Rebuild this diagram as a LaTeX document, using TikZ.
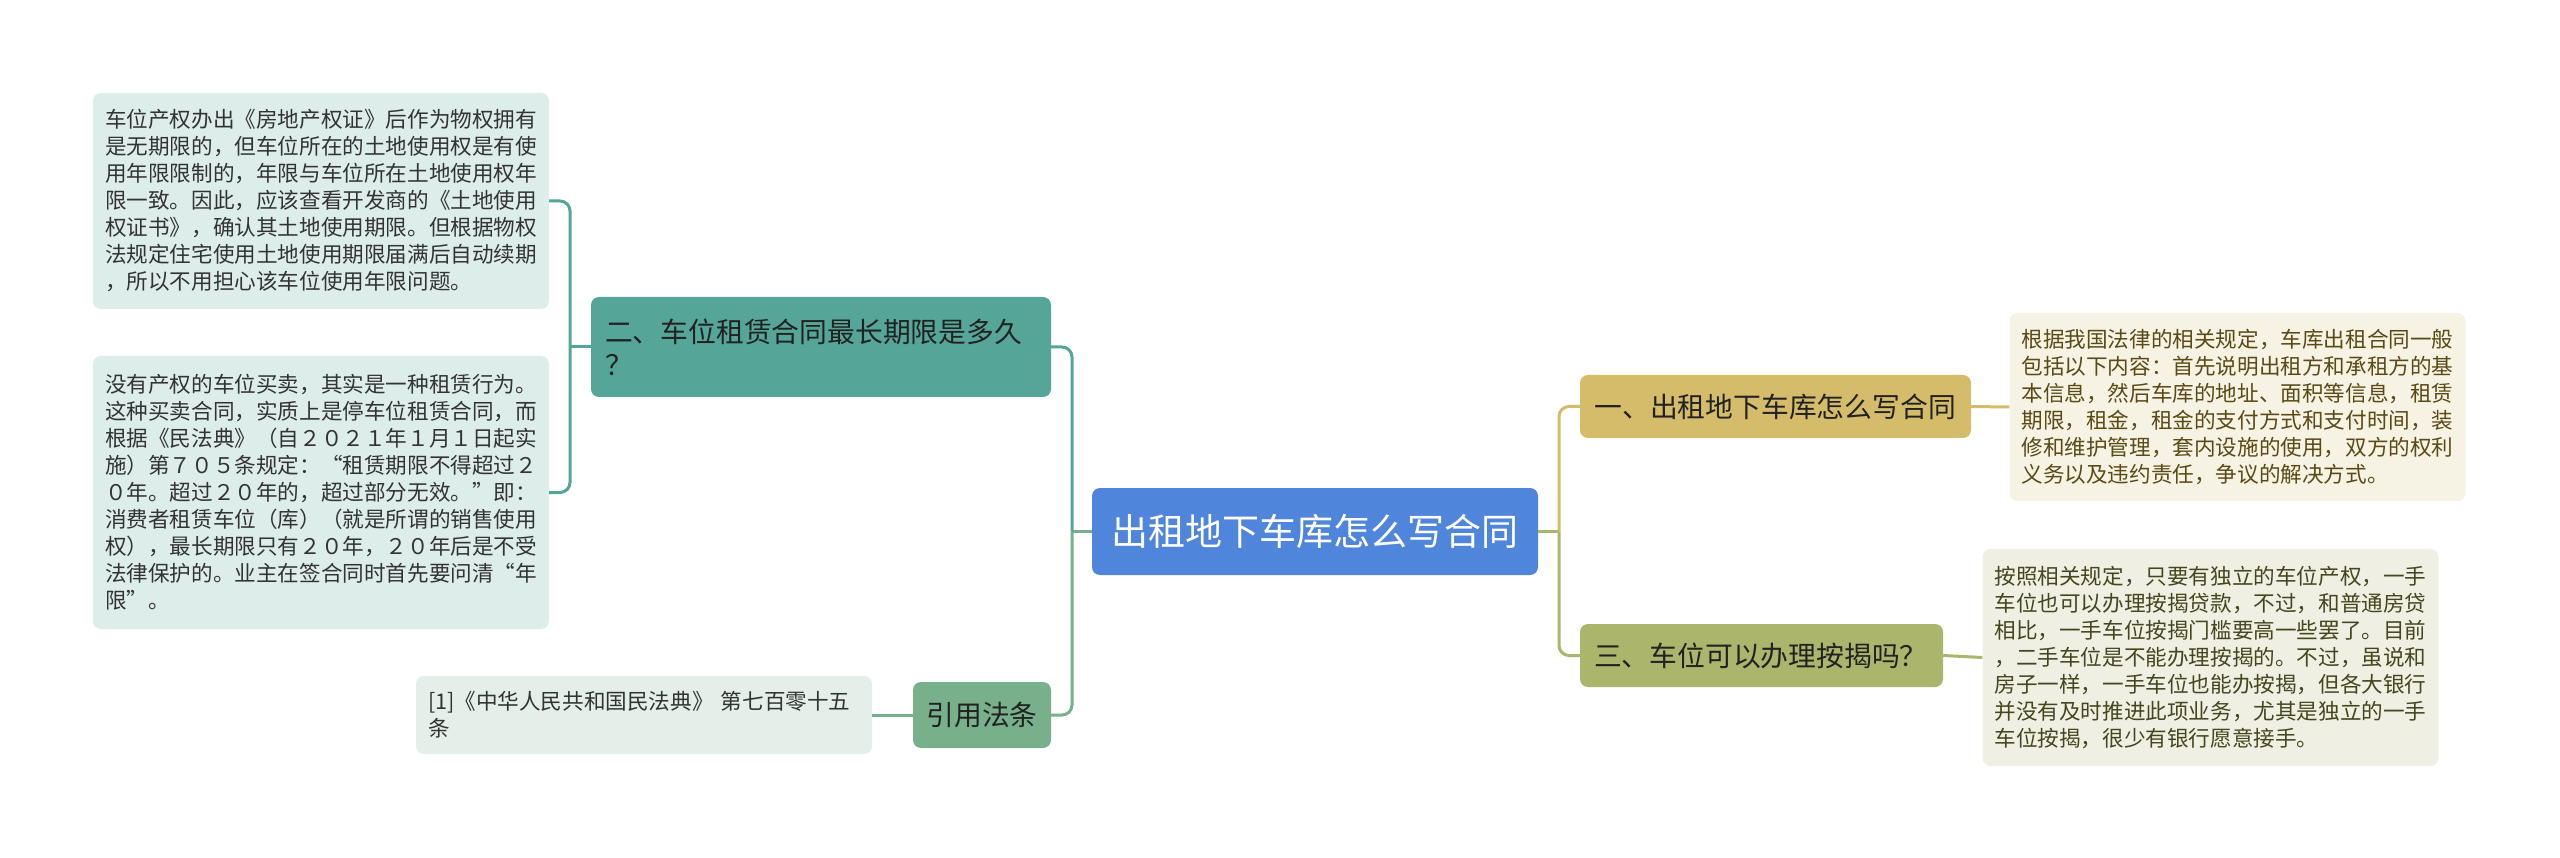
\documentclass[tikz,border=0pt]{standalone}
\usepackage{fontspec}
\setmainfont{Noto Sans CJK SC}
\definecolor{cblue}{HTML}{4F86DB}
\definecolor{cteal}{HTML}{56A599}
\definecolor{cteall}{HTML}{DDEDEA}
\definecolor{cgreen}{HTML}{77B08A}
\definecolor{cgreenl}{HTML}{E3EFE8}
\definecolor{cgold}{HTML}{D5BC6B}
\definecolor{cgoldl}{HTML}{F6F2E4}
\definecolor{colive}{HTML}{ABB56B}
\definecolor{colivel}{HTML}{EFF0E3}
\definecolor{tdark}{HTML}{222222}
\definecolor{tgray}{HTML}{333333}
\definecolor{tbrown}{HTML}{5A4A14}
\definecolor{tolive}{HTML}{45451E}
\tikzset{
  box/.style={rounded corners=8pt, inner ysep=0pt, align=left, anchor=center},
  leaf/.style={box, inner xsep=12pt, text width=432pt, font=\fontsize{21.6}{27}\selectfont},
  topic/.style={box, inner xsep=14pt, font=\fontsize{27.8}{33}\selectfont, text=tdark},
  conn/.style={line width=3pt, rounded corners=10pt},
}
\begin{document}
\begin{tikzpicture}[x=1pt, y=-1pt]
\useasboundingbox[fill=white] (0,0) rectangle (2560,858);

% central
\node[box, fill=cblue, text=white, inner xsep=19pt, text width=408pt, align=center,
  minimum height=87pt, font=\fontsize{37}{44}\selectfont] (c) at (1315,531.5) {出租地下车库怎么写合同};

% left side
\node[topic, fill=cteal, text width=432pt, minimum height=100pt] (n2) at (821,347)
  {二、车位租赁合同最长期限是多久\\？};
\node[leaf, fill=cteall, text=tgray, minimum height=216pt] (l1) at (321,201)
  {车位产权办出《房地产权证》后作为物权拥有\\是无期限的，但车位所在的土地使用权是有使\\用年限限制的，年限与车位所在土地使用权年\\限一致。因此，应该查看开发商的《土地使用\\权证书》，确认其土地使用期限。但根据物权\\法规定住宅使用土地使用期限届满后自动续期\\，所以不用担心该车位使用年限问题。};
\node[leaf, fill=cteall, text=tgray, minimum height=273pt] (l2) at (321,492.5)
  {没有产权的车位买卖，其实是一种租赁行为。\\这种买卖合同，实质上是停车位租赁合同，而\\根据《民法典》（自２０２１年１月１日起实\\施）第７０５条规定：“租赁期限不得超过２\\０年。超过２０年的，超过部分无效。”即：\\消费者租赁车位（库）（就是所谓的销售使用\\权），最长期限只有２０年，２０年后是不受\\法律保护的。业主在签合同时首先要问清“年\\限”。};
\node[topic, fill=cgreen, text width=111pt, inner xsep=13.5pt, minimum height=66pt] (n4) at (982,715) {引用法条};
\node[leaf, fill=cgreenl, text=tgray, minimum height=78pt] (l4) at (644,715)
  {[1]《中华人民共和国民法典》 第七百零十五\\条};

% right side
\node[topic, fill=cgold, text width=362pt, inner xsep=14.5pt, minimum height=63pt] (n1) at (1775.5,406.5)
  {一、出租地下车库怎么写合同};
\node[leaf, fill=cgoldl, text=tbrown, minimum height=188pt] (r1) at (2237.5,407)
  {根据我国法律的相关规定，车库出租合同一般\\包括以下内容：首先说明出租方和承租方的基\\本信息，然后车库的地址、面积等信息，租赁\\期限，租金，租金的支付方式和支付时间，装\\修和维护管理，套内设施的使用，双方的权利\\义务以及违约责任，争议的解决方式。};
\node[topic, fill=colive, text width=335pt, minimum height=63pt] (n3) at (1761.5,655.5)
  {三、车位可以办理按揭吗？};
\node[leaf, fill=colivel, text=tolive, minimum height=217pt] (r3) at (2210.5,657.5)
  {按照相关规定，只要有独立的车位产权，一手\\车位也可以办理按揭贷款，不过，和普通房贷\\相比，一手车位按揭门槛要高一些罢了。目前\\，二手车位是不能办理按揭的。不过，虽说和\\房子一样，一手车位也能办按揭，但各大银行\\并没有及时推进此项业务，尤其是独立的一手\\车位按揭，很少有银行愿意接手。};

% junctions
\coordinate (jl) at (1072,531.5);
\coordinate (jr) at (1559,531.5);
\coordinate (jl2) at (570,347);

% connectors
\draw[conn, cgreen] (c.west) -- (jl);
\draw[conn, cteal] (jl) |- (n2.east);
\draw[conn, cgreen] (jl) |- (n4.east);
\draw[conn, cteal] (n2.west) -- (jl2);
\draw[conn, cteal] (jl2) |- (l1.east);
\draw[conn, cteal] (jl2) |- (l2.east);
\draw[conn, cgreen] (n4.west) -- (l4.east);

\draw[conn, colive] (c.east) -- (jr);
\draw[conn, cgold] (jr) |- (n1.west);
\draw[conn, colive] (jr) |- (n3.west);
\draw[conn, cgold] (n1.east) -- (r1.west);
\draw[conn, colive] (n3.east) -- (r3.west);
\end{tikzpicture}
\end{document}
